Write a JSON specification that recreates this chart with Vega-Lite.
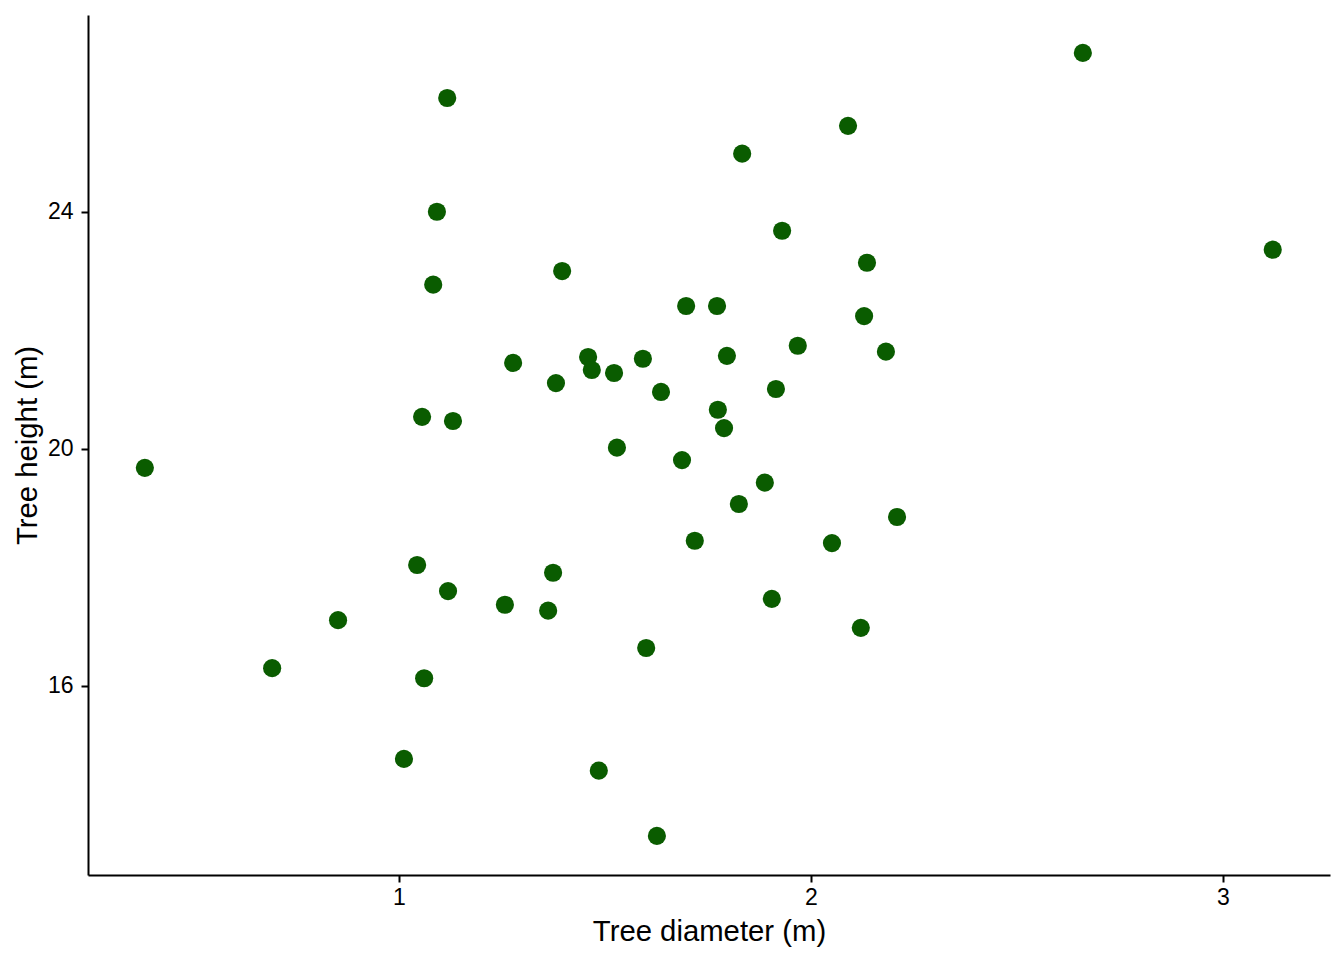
{
  "$schema": "https://vega.github.io/schema/vega-lite/v6.json",
  "width": 1242,
  "height": 860,
  "autosize": {"type": "none"},
  "padding": {"left": 88, "top": 15, "right": 14, "bottom": 85},
  "background": "white",
  "config": {
    "view": {"stroke": null},
    "axis": {
      "grid": false,
      "domainColor": "black",
      "domainWidth": 2,
      "tickColor": "black",
      "tickWidth": 2,
      "tickSize": 7,
      "labelFont": "Liberation Sans",
      "labelFontSize": 23,
      "labelColor": "black",
      "titleFont": "Liberation Sans",
      "titleFontSize": 29.3,
      "titleFontWeight": "normal",
      "titleColor": "black"
    }
  },
  "data": {
    "values": [
      {"diameter": 0.383, "height": 19.68},
      {"diameter": 0.692, "height": 16.30},
      {"diameter": 0.852, "height": 17.11},
      {"diameter": 1.012, "height": 14.77},
      {"diameter": 1.044, "height": 18.04},
      {"diameter": 1.056, "height": 20.54},
      {"diameter": 1.061, "height": 16.13},
      {"diameter": 1.083, "height": 22.77},
      {"diameter": 1.092, "height": 24.00},
      {"diameter": 1.117, "height": 25.92},
      {"diameter": 1.119, "height": 17.60},
      {"diameter": 1.131, "height": 20.47},
      {"diameter": 1.257, "height": 17.37},
      {"diameter": 1.277, "height": 21.45},
      {"diameter": 1.362, "height": 17.27},
      {"diameter": 1.374, "height": 17.91},
      {"diameter": 1.381, "height": 21.11},
      {"diameter": 1.396, "height": 23.00},
      {"diameter": 1.459, "height": 21.55},
      {"diameter": 1.468, "height": 21.33},
      {"diameter": 1.485, "height": 14.57},
      {"diameter": 1.522, "height": 21.28},
      {"diameter": 1.529, "height": 20.02},
      {"diameter": 1.592, "height": 21.52},
      {"diameter": 1.600, "height": 16.64},
      {"diameter": 1.626, "height": 13.47},
      {"diameter": 1.636, "height": 20.96},
      {"diameter": 1.687, "height": 19.81},
      {"diameter": 1.697, "height": 22.41},
      {"diameter": 1.718, "height": 18.45},
      {"diameter": 1.772, "height": 22.41},
      {"diameter": 1.774, "height": 20.66},
      {"diameter": 1.789, "height": 20.35},
      {"diameter": 1.796, "height": 21.57},
      {"diameter": 1.825, "height": 19.07},
      {"diameter": 1.833, "height": 24.98},
      {"diameter": 1.888, "height": 19.43},
      {"diameter": 1.905, "height": 17.47},
      {"diameter": 1.915, "height": 21.01},
      {"diameter": 1.930, "height": 23.68},
      {"diameter": 1.968, "height": 21.74},
      {"diameter": 2.051, "height": 18.41},
      {"diameter": 2.090, "height": 25.45},
      {"diameter": 2.121, "height": 16.98},
      {"diameter": 2.129, "height": 22.24},
      {"diameter": 2.136, "height": 23.14},
      {"diameter": 2.182, "height": 21.64},
      {"diameter": 2.209, "height": 18.85},
      {"diameter": 2.660, "height": 26.68},
      {"diameter": 3.121, "height": 23.36}
    ]
  },
  "mark": {"type": "circle", "color": "#0a5c00", "opacity": 1, "size": 330},
  "encoding": {
    "x": {
      "field": "diameter",
      "type": "quantitative",
      "title": "Tree diameter (m)",
      "scale": {"domain": [0.245, 3.26], "nice": false, "zero": false},
      "axis": {"values": [1, 2, 3], "labelPadding": 4, "titlePadding": 8}
    },
    "y": {
      "field": "height",
      "type": "quantitative",
      "title": "Tree height (m)",
      "scale": {"domain": [12.81, 27.32], "nice": false, "zero": false},
      "axis": {"values": [16, 20, 24], "labelPadding": 8, "titlePadding": 5}
    }
  }
}
